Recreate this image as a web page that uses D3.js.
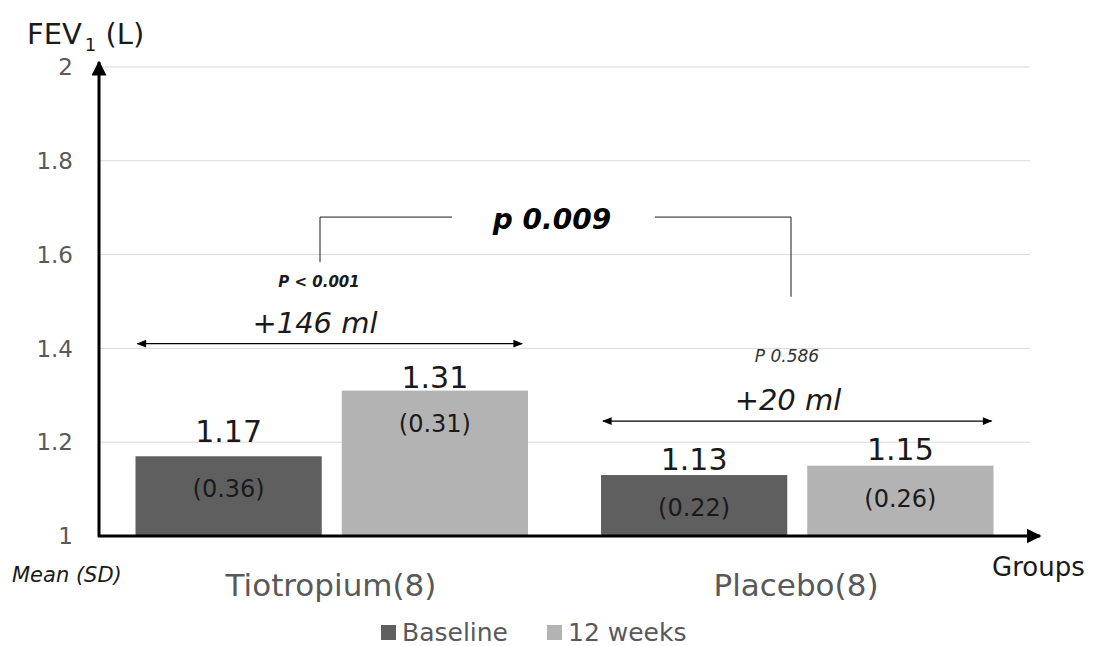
<!DOCTYPE html>
<html><head><meta charset="utf-8">
<script src="https://cdn.jsdelivr.net/npm/d3@7"></script>
<style>
html,body{margin:0;padding:0;background:#fff;}
svg{display:block;font-family:"DejaVu Sans",sans-serif;}
</style></head><body>
<svg id="c" width="1103" height="646"></svg>
<script>
const groups = ["Tiotropium(8)", "Placebo(8)"];
const seriesNames = ["Baseline", "12 weeks"];
const baselineValues = [1.17, 1.13];
const week12Values = [1.31, 1.15];
const baselineSD = ["(0.36)", "(0.22)"];
const week12SD = ["(0.31)", "(0.26)"];
const yTicks = [1, 1.2, 1.4, 1.6, 1.8, 2];
const changeLabels = ["+146 ml", "+20 ml"];
const withinP = ["P < 0.001", "P 0.586"];
const betweenP = "p 0.009";

(function(){
const colors = {"Baseline":"#5f5f5f","12 weeks":"#b3b3b3"};
const svg = d3.select("#c");
const pL = 99, pR = 1030, pT = 67, pB = 536;

const y = d3.scaleLinear().domain([1,2]).range([pB, pT]);
const x0 = d3.scaleBand().domain(groups).range([pL, pR]).padding(0);
const x1 = d3.scaleBand().domain(seriesNames).range([0, x0.bandwidth()]).paddingInner(0.097).paddingOuter(0.177);

svg.append("g").selectAll("line").data(yTicks.slice(1)).join("line")
  .attr("x1", pL).attr("x2", pR).attr("y1", d=>y(d)).attr("y2", d=>y(d))
  .attr("stroke", "#d9d9d9").attr("stroke-width", 1);

svg.append("g").selectAll("text").data(yTicks).join("text")
  .attr("x", 73).attr("y", d=>y(d)).attr("dy","0.36em").attr("text-anchor","end")
  .attr("font-size", 23).attr("fill","#595959").text(d=>d3.format("~g")(d));

const data = groups.map((g,i)=>({g, i, vals:[
  {s:"Baseline", v:baselineValues[i], sd:baselineSD[i], k:i*2},
  {s:"12 weeks", v:week12Values[i], sd:week12SD[i], k:i*2+1}]}));
const valGap = [14, 3, 5, 6];

const gg = svg.append("g").selectAll("g").data(data).join("g")
  .attr("transform", d=>`translate(${x0(d.g)},0)`);
gg.selectAll("rect").data(d=>d.vals).join("rect")
  .attr("x", d=>x1(d.s)).attr("width", x1.bandwidth())
  .attr("y", d=>y(d.v)).attr("height", d=>y(1)-y(d.v))
  .attr("fill", d=>colors[d.s]);
gg.selectAll("text.val").data(d=>d.vals).join("text").attr("class","val")
  .attr("x", d=>x1(d.s)+x1.bandwidth()/2).attr("y", d=>y(d.v)-valGap[d.k])
  .attr("text-anchor","middle").attr("font-size", 30).attr("fill","#1a1a1a")
  .text(d=>d3.format(".2f")(d.v));
gg.selectAll("text.sd").data(d=>d.vals).join("text").attr("class","sd")
  .attr("x", d=>x1(d.s)+x1.bandwidth()/2).attr("y", d=>y(d.v)+41)
  .attr("text-anchor","middle").attr("font-size", 24).attr("fill","#1a1a1a")
  .text(d=>d.sd);

const defs = svg.append("defs");
defs.append("marker").attr("id","ah").attr("viewBox","0 0 10 10").attr("refX",9).attr("refY",5)
  .attr("markerWidth",5).attr("markerHeight",5).attr("orient","auto-start-reverse")
  .append("path").attr("d","M0,0L10,5L0,10z").attr("fill","#000");
defs.append("marker").attr("id","ah2").attr("viewBox","0 0 10 10").attr("refX",9).attr("refY",5)
  .attr("markerWidth",9).attr("markerHeight",8).attr("orient","auto-start-reverse")
  .append("path").attr("d","M0,1L10,5L0,9z").attr("fill","#000");

svg.append("line").attr("x1",pL).attr("x2",pL).attr("y1",pB+1).attr("y2",pT-5)
  .attr("stroke","#000").attr("stroke-width",3).attr("marker-end","url(#ah)");
svg.append("line").attr("x1",pL-1).attr("x2",1040).attr("y1",pB).attr("y2",pB)
  .attr("stroke","#000").attr("stroke-width",3).attr("marker-end","url(#ah)");

const catX = [331, 796];
svg.append("g").selectAll("text").data(groups).join("text")
  .attr("x", (d,i)=>catX[i]).attr("y", 596).attr("text-anchor","middle")
  .attr("font-size", 31).attr("fill","#595959").text(d=>d);

const ft = svg.append("text").attr("x",27).attr("y",44).attr("font-size",29).attr("fill","#1a1a1a");
ft.append("tspan").text("FEV");
ft.append("tspan").attr("font-size",18).attr("dy",7).attr("dx",3).text("1");
ft.append("tspan").attr("dy",-7).text(" (L)");
svg.append("text").attr("x",12).attr("y",582).attr("font-size",21).attr("font-style","italic")
  .attr("fill","#1a1a1a").text("Mean (SD)");
svg.append("text").attr("x",992).attr("y",576).attr("font-size",26).attr("fill","#1a1a1a").text("Groups");

const arrowY = [y(1.41), y(1.245)];
groups.forEach((g,i)=>{
  const xa = x0(g)+x1("Baseline")+2, xb = x0(g)+x1("12 weeks")+x1.bandwidth();
  svg.append("line").attr("x1", xa).attr("x2", xb-(i===0?6:2)).attr("y1", arrowY[i]).attr("y2", arrowY[i])
    .attr("stroke","#000").attr("stroke-width",1.2)
    .attr("marker-start","url(#ah2)").attr("marker-end","url(#ah2)");
});
svg.append("text").attr("x",315).attr("y",333).attr("text-anchor","middle").attr("font-size",29)
  .attr("font-style","italic").attr("fill","#1a1a1a").text(changeLabels[0]);
svg.append("text").attr("x",788).attr("y",410).attr("text-anchor","middle").attr("font-size",29)
  .attr("font-style","italic").attr("fill","#1a1a1a").text(changeLabels[1]);
svg.append("text").attr("x",319).attr("y",287).attr("text-anchor","middle").attr("font-size",15)
  .attr("font-style","italic").attr("font-weight","bold").attr("fill","#1a1a1a").text(withinP[0]);
svg.append("text").attr("x",787).attr("y",362).attr("text-anchor","middle").attr("font-size",17)
  .attr("font-style","italic").attr("fill","#333").text(withinP[1]);

const by = y(1.68);
svg.append("path").attr("d",`M320,${y(1.584)}V${by}H452`).attr("fill","none").attr("stroke","#1a1a1a").attr("stroke-width",1);
svg.append("path").attr("d",`M655,${by}H791V${y(1.51)}`).attr("fill","none").attr("stroke","#1a1a1a").attr("stroke-width",1);
svg.append("text").attr("x",552).attr("y",229).attr("text-anchor","middle").attr("font-size",28)
  .attr("font-style","italic").attr("font-weight","bold").attr("fill","#000").text(betweenP);

const lg = svg.append("g").attr("transform","translate(381,625)");
seriesNames.forEach((s,i)=>{
  const gx = i*166;
  lg.append("rect").attr("x",gx).attr("y",0).attr("width",15).attr("height",15).attr("fill",colors[s]);
  lg.append("text").attr("x",gx+21).attr("y",16).attr("font-size",25).attr("fill","#595959").text(s);
});
})();
</script>
</body></html>
